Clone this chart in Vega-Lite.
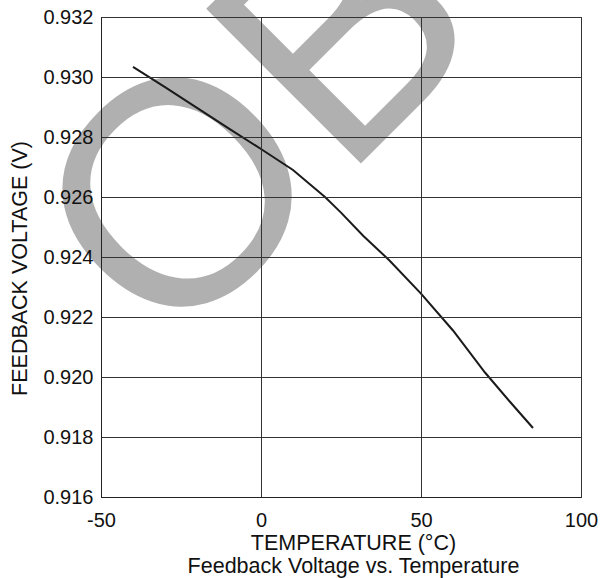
{
  "$schema": "https://vega.github.io/schema/vega-lite/v6.json",
  "width": 480,
  "height": 480,
  "autosize": {"type": "none"},
  "padding": {"left": 101, "top": 17, "right": 19, "bottom": 81},
  "config": {
    "font": "Liberation Sans",
    "view": {"stroke": "#222222", "strokeWidth": 1},
    "axis": {
      "zindex": 1,
      "grid": true,
      "ticks": false,
      "domainColor": "#222222",
      "gridColor": "#333333",
      "gridOpacity": 1,
      "gridWidth": 1,
      "labelColor": "#111111",
      "labelFontSize": 20,
      "titleColor": "#111111",
      "titleFontSize": 21.5,
      "titleFontWeight": "normal"
    }
  },
  "layer": [
    {
      "data": {"values": [{"label": "OBSOLETE"}]},
      "mark": {
        "type": "text",
        "align": "left",
        "baseline": "alphabetic",
        "angle": -45,
        "font": "Liberation Sans",
        "fontSize": 318,
        "color": "#b0b0b0"
      },
      "encoding": {
        "text": {"field": "label"},
        "x": {"datum": -29.2, "type": "quantitative", "axis": {"zindex": 2}},
        "y": {"datum": 0.92067, "type": "quantitative", "axis": {"zindex": 2}}
      }
    },
    {
      "data": {
        "values": [
          {"temp": -40, "vfb": 0.93034},
          {"temp": -30, "vfb": 0.92966},
          {"temp": -20, "vfb": 0.92897},
          {"temp": -10, "vfb": 0.92828},
          {"temp": 0, "vfb": 0.9276},
          {"temp": 10, "vfb": 0.9269},
          {"temp": 20, "vfb": 0.926},
          {"temp": 25, "vfb": 0.92548},
          {"temp": 32, "vfb": 0.9247},
          {"temp": 40, "vfb": 0.9239},
          {"temp": 50, "vfb": 0.92278},
          {"temp": 60, "vfb": 0.92155},
          {"temp": 70, "vfb": 0.92015},
          {"temp": 78, "vfb": 0.91915},
          {"temp": 85, "vfb": 0.9183}
        ]
      },
      "mark": {"type": "line", "color": "#1a1a1a", "strokeWidth": 2},
      "encoding": {
        "x": {
          "field": "temp",
          "type": "quantitative",
          "scale": {"domain": [-50, 100], "zero": false, "nice": false},
          "axis": {
            "zindex": 2,
            "grid": true,
            "values": [-50, 0, 50, 100],
            "labelExpr": "replace(datum.label, '\u2212', '-')",
            "labelPadding": 13,
            "labelFlush": false,
            "title": ["TEMPERATURE (°C)", "Feedback Voltage vs. Temperature"],
            "titleBaseline": "alphabetic",
            "titleAlign": "center",
            "titleX": 252,
            "titleY": 52,
            "titleLineHeight": 23
          }
        },
        "y": {
          "field": "vfb",
          "type": "quantitative",
          "scale": {"domain": [0.916, 0.932], "zero": false, "nice": false},
          "axis": {
            "zindex": 2,
            "grid": true,
            "values": [0.916, 0.918, 0.92, 0.922, 0.924, 0.926, 0.928, 0.93, 0.932],
            "format": ".3f",
            "labelPadding": 8,
            "labelFlush": false,
            "title": "FEEDBACK VOLTAGE (V)",
            "titleAngle": 270,
            "titleBaseline": "alphabetic",
            "titleAlign": "center",
            "titleX": -75,
            "titleY": 251
          }
        }
      }
    }
  ]
}
